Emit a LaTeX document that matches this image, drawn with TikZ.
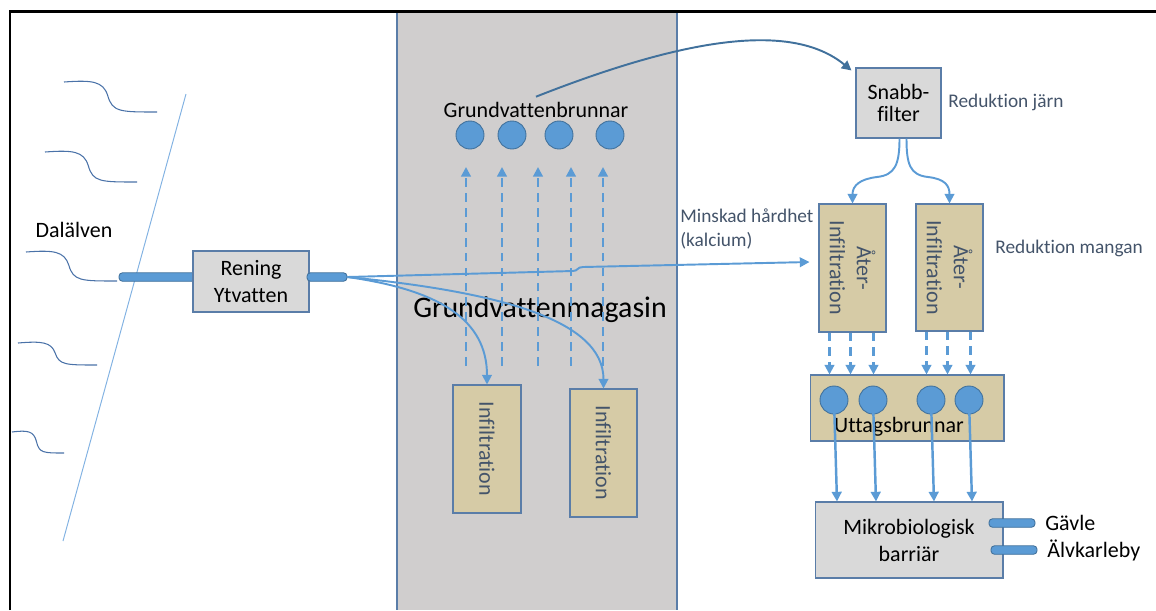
\documentclass[tikz,border=0pt]{standalone}
\usepackage{fontspec}
\setmainfont{Carlito}[Ligatures={NoCommon,NoContextual}]
\usetikzlibrary{arrows.meta,calc}

\definecolor{wellblue}{HTML}{5B9BD5}
\definecolor{welledge}{HTML}{41719C}
\definecolor{boxedge}{HTML}{5A7DA8}
\definecolor{sandfill}{HTML}{D6CBA6}
\definecolor{boxfill}{HTML}{D9D9D9}
\definecolor{bandfill}{HTML}{D0CECE}
\definecolor{notegray}{HTML}{44546A}
\definecolor{riverblue}{HTML}{4A72A8}
\definecolor{shoreblue}{HTML}{82B2E2}

\tikzset{
  grbox/.style={draw=boxedge, fill=boxfill, line width=0.6pt, align=center, inner sep=0pt, font=\fontsize{12.5}{15}\selectfont},
  sandbox/.style={draw=boxedge, fill=sandfill, line width=0.6pt, inner sep=0pt},
  well/.style={circle, draw=welledge, fill=wellblue, line width=0.5pt, minimum size=0.56cm, inner sep=0pt},
  pipe/.style={draw=welledge, fill=wellblue, rounded corners=2pt, line width=0.5pt, minimum height=0.17cm, inner sep=0pt},
  flow/.style={draw=wellblue, line width=1.1pt, -{Triangle[length=5.5pt,width=5.5pt]}},
  dashflow/.style={flow, line width=1.25pt, dash pattern=on 5pt off 3.5pt},
  note/.style={text=notegray, inner sep=0pt, font=\fontsize{11}{13.7}\selectfont},
  lbl/.style={inner sep=0pt, font=\fontsize{12.5}{15}\selectfont},
  vlbl/.style={rotate=-90, text=notegray, align=center, inner sep=0pt, font=\fontsize{12.5}{15.4}\selectfont}
}

\begin{document}
\begin{tikzpicture}[x={(0.02cm,0cm)}, y={(0cm,-0.02cm)}]

       \pgfmathsetmacro{\wellTop}{135}
       \pgfmathsetmacro{\wellLow}{400}

       \useasboundingbox (0,0) rectangle (1156,610);

       %% bakgrund: grundvattenmagasinet som grått band, ram upptill och till vänster
       \fill[bandfill] (397,12) rectangle (677,610);
       \draw[boxedge, line width=0.6pt] (397,12) -- (397,610) (677,12) -- (677,610);
       \draw[black, line width=1.7pt] (10,610) -- (10,11) -- (1156,11);

       \foreach \wx/\wy/\ww/\wh in {64/82/93/30, 45/152/92/30, 26/252/91/29, 18/343/79/22, 12/432/52/21}
         \draw[riverblue, line width=0.6pt] (\wx,\wy)
           .. controls ({\wx+0.3*\ww},{\wy-2}) and ({\wx+0.42*\ww},{\wy-1}) .. ({\wx+0.47*\ww},{\wy+0.45*\wh})
           .. controls ({\wx+0.52*\ww},{\wy+\wh}) and ({\wx+0.6*\ww},{\wy+\wh}) .. ({\wx+\ww},{\wy+\wh});
       \draw[shoreblue, line width=0.55pt] (186,94) -- (63,541);
       \node[lbl] (Dal) at (74,230) {Dalälven};

       \node[pipe, minimum width=1.56cm] (PipeIn) at (158,277) {};
       \node[grbox, minimum width=2.32cm, minimum height=1.22cm] (Rening) at (251,281.5) {Rening\\Ytvatten};
       \node[pipe, minimum width=0.8cm] (PipeOut) at (327,277) {};

       \node[lbl] (GwLabel) at (536,110) {Grundvattenbrunnar};
       \foreach \i/\x in {1/470,2/512,3/559,4/610}
         \node[well] (GwWell\i) at (\x,\wellTop) {};
       \node[lbl, font=\fontsize{17}{20}\selectfont] (Magasin) at (540,310) {Grundvattenmagasin};

       \node[sandbox, minimum width=1.36cm, minimum height=2.56cm, label={[vlbl]center:Infiltration}] (Infil1) at (487,449) {};
       \node[sandbox, minimum width=1.34cm, minimum height=2.56cm, label={[vlbl]center:Infiltration}] (Infil2) at (603.5,453) {};

       \node[grbox, minimum width=1.7cm, minimum height=1.4cm, font=\fontsize{12.5}{12.6}\selectfont] (Snabb) at (898.5,103) {Snabb-\\filter};
       \node[note, anchor=west] (NoteFe) at (948,102) {Reduktion järn};

       \node[sandbox, minimum width=1.34cm, minimum height=2.56cm, label={[vlbl]center:{Åter-\\Infiltration}}] (Ater1) at (852.5,268) {};
       \node[sandbox, minimum width=1.34cm, minimum height=2.54cm, label={[vlbl]center:{Åter-\\Infiltration}}] (Ater2) at (949.5,267.5) {};
       \node[note, anchor=west, align=left] (NoteCa) at (680,229) {Minskad hårdhet\\(kalcium)};
       \node[note, anchor=west] (NoteMn) at (995,248) {Reduktion mangan};

       \node[sandbox, minimum width=3.88cm, minimum height=1.32cm] (Uttag) at (907,408) {};
       \foreach \i/\x in {1/834,2/873,3/931,4/969}
         \node[well] (UtWell\i) at (\x,\wellLow) {};
       \node[lbl] (UtLabel) at (899,427) {Uttagsbrunnar};

       \node[grbox, minimum width=3.76cm, minimum height=1.52cm, font=\fontsize{12.5}{15.4}\selectfont] (Mikro) at (909,540) {Mikrobiologisk\\barriär};
       \node[pipe, minimum width=0.92cm] (PipeG) at (1012,523) {};
       \node[pipe, minimum width=0.92cm] (PipeA) at (1014,550) {};
       \node[lbl, anchor=west] (Gavle) at (1045,523) {Gävle};
       \node[lbl, anchor=west] (Alvk) at (1047,550) {Älvkarleby};

       \draw[flow] (PipeOut.east) -- (573,271) .. controls (578,271) and (577,267) .. (583,267) -- ($(Ater1.west)+(-9,-6)$);
       \draw[flow] (PipeOut.east) .. controls (440,290) and (487,320) .. (Infil1.north);
       \draw[flow] (PipeOut.east) .. controls (500,292) and (603.5,320) .. (Infil2.north);

       \foreach \x in {466,502,538,571,603}
         \draw[dashflow] (\x,366) -- (\x,167);

       \draw[flow, draw=welledge] ([yshift=3pt]GwLabel.north) .. controls (680,40) and (790,20) .. ($(Snabb.north west)+(-4,3)$);

       \draw[flow] ($(Snabb.south)+(1,0)$) .. controls +(0,26) and +(18,-2) .. (877,177) .. controls +(-17,2) and +(0,-18) .. (Ater1.north);
       \draw[flow] ($(Snabb.south)+(8,0)$) .. controls +(0,26) and +(-18,-2) .. (928,177) .. controls +(17,2) and +(0,-18) .. (Ater2.north);

       \foreach \b in {Ater1,Ater2}
         \foreach \dx in {-23,-2,21} {
           \coordinate (DropTop) at ($(\b.south)+(\dx,0)$);
           \draw[dashflow] (DropTop) -- (DropTop |- Uttag.north);
         }

       \foreach \i in {1,...,4}
         \draw[flow, line width=1.4pt] (UtWell\i.center) -- ($(UtWell\i.center |- Mikro.north)+(3,0)$);
    \end{tikzpicture}
\end{document}
